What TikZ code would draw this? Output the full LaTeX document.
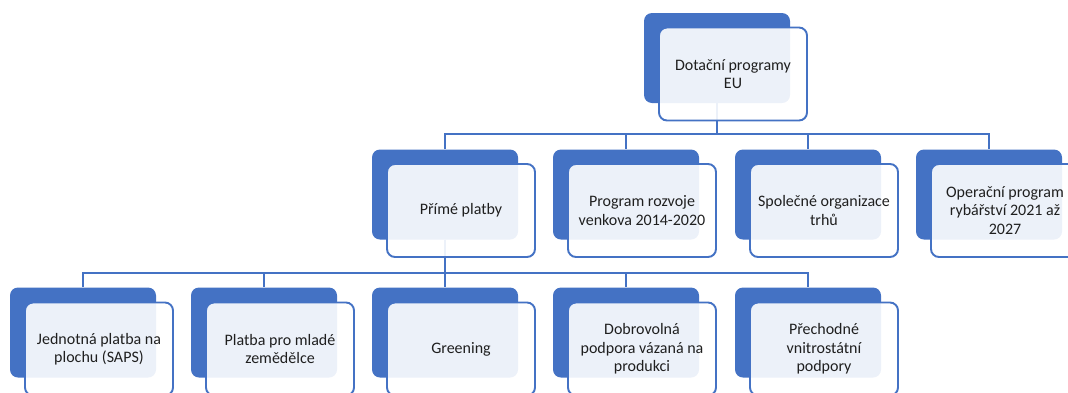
\documentclass[tikz,border=0pt]{standalone}
\usepackage{fontspec}
\setmainfont{Carlito}
\definecolor{sablue}{HTML}{4472C4}
\definecolor{satext}{HTML}{1F1F1F}
\tikzset{
  backbox/.style={rectangle, rounded corners=8pt, fill=sablue, draw=none,
    minimum width=146pt, minimum height=90pt, inner sep=0pt},
  frontbox/.style={rectangle, rounded corners=8pt, draw=sablue, line width=1.9pt,
    fill=white, fill opacity=0.9, text opacity=1, text=satext,
    minimum width=148pt, minimum height=93pt, inner sep=2pt, align=center,
    font=\fontsize{16pt}{18.5pt}\selectfont},
  conn/.style={draw=sablue, line width=2pt}
}
\begin{document}
\begin{tikzpicture}[x=1pt,y=-1pt]
    \useasboundingbox (0,0) rectangle (1068,392);
    \clip (0,0) rectangle (1068,392);
    % back panels
    \node[backbox] (eu) at (717,58) {};
    \node[backbox] (prime) at (445,194.5) {};
    \node[backbox] (rozvoj) at (626,194.5) {};
    \node[backbox] (trhy) at (808,194.5) {};
    \node[backbox] (ryby) at (989,194.5) {};
    \node[backbox] (saps) at (83,332.5) {};
    \node[backbox] (mladi) at (264,332.5) {};
    \node[backbox] (green) at (445,332.5) {};
    \node[backbox] (dobro) at (626,332.5) {};
    \node[backbox] (prech) at (808,332.5) {};
    % connectors
    \coordinate (barA) at (0,134);
    \coordinate (barB) at (0,273);
    \draw[conn] (eu.south) -- (eu.south |- barA) -| (prime.north);
    \draw[conn] (eu.south) -- (eu.south |- barA) -| (rozvoj.north);
    \draw[conn] (eu.south) -- (eu.south |- barA) -| (trhy.north);
    \draw[conn] (eu.south) -- (eu.south |- barA) -| (ryby.north);
    \draw[conn] (prime.south) -- (prime.south |- barB) -| (saps.north);
    \draw[conn] (prime.south) -- (prime.south |- barB) -| (mladi.north);
    \draw[conn] (prime.south) -- (prime.south |- barB) -| (green.north);
    \draw[conn] (prime.south) -- (prime.south |- barB) -| (dobro.north);
    \draw[conn] (prime.south) -- (prime.south |- barB) -| (prech.north);
    % front panels
    \node[frontbox] (euF) at (733,74) {Dotační programy\\EU};
    \node[frontbox] (primeF) at (461,210.5) {Přímé platby};
    \node[frontbox] (rozvojF) at (642,210.5) {Program rozvoje\\venkova 2014-2020};
    \node[frontbox] (trhyF) at (824,210.5) {Společné organizace\\trhů};
    \node[frontbox] (rybyF) at (1005,210.5) {Operační program\\rybářství 2021 až\\2027};
    \node[frontbox] (sapsF) at (99,349) {Jednotná platba na\\plochu (SAPS)};
    \node[frontbox] (mladiF) at (280,349) {Platba pro mladé\\zemědělce};
    \node[frontbox] (greenF) at (461,349) {Greening};
    \node[frontbox] (dobroF) at (642,349) {Dobrovolná\\podpora vázaná na\\produkci};
    \node[frontbox] (prechF) at (824,349) {Přechodné\\vnitrostátní\\podpory};
  \end{tikzpicture}
\end{document}
